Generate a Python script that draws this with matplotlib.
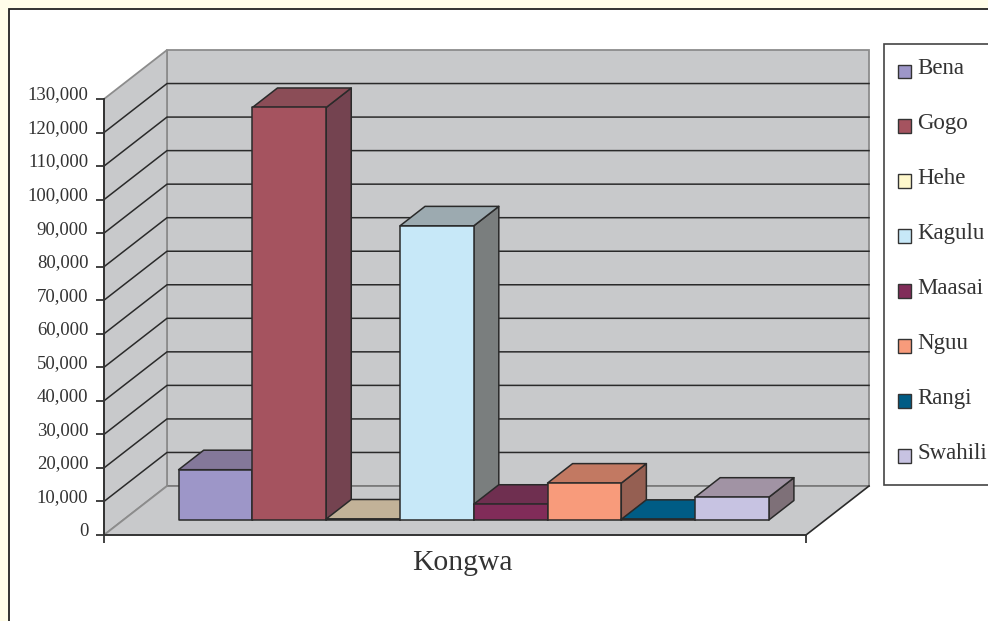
#!/usr/bin/env python3
import matplotlib
matplotlib.use('Agg')
import matplotlib.pyplot as plt
from matplotlib.legend_handler import HandlerPatch
from matplotlib.patches import Polygon, Patch, Rectangle
from matplotlib.ticker import FuncFormatter
from matplotlib.transforms import ScaledTranslation

plt.rcParams['font.family'] = ['Liberation Serif', 'DejaVu Serif']

names = ['Bena', 'Gogo', 'Hehe', 'Kagulu', 'Maasai', 'Nguu', 'Rangi', 'Swahili']
values = [15000, 123000, 300, 87700, 4700, 11000, 200, 6800]
front_colors = ['#9D96C8', '#A5535F', '#FFF8CC', '#C7E8F8', '#812C59', '#F89B7B', '#005C85', '#C7C3E2']
top_colors = ['#84789A', '#8B4D57', '#C2B298', '#9CAAB0', '#6F2F50', '#C27962', '#005C85', '#A193A4']
side_colors = ['#6B5F80', '#744350', '#8F836F', '#7A7E7E', '#5A2440', '#955F52', '#00435F', '#7E7078']
yticks = list(range(0, 130001, 10000))
category = 'Kongwa'

WALL = '#C8C9CB'
EDGE = '#2A2A2A'
GREY = '#8C8C8C'
# depth of the 3d box, in category units and value units
DX = 0.854
DY = 14610
BAR_FRONT = 0.306
BAR_BACK = 0.704
XMIN, XMAX = -0.75, 8.765
YMAX = 130000


def proj(x, v, d):
    return (x + d * DX, v + d * DY)


def legend_square(legend, orig_handle, xdescent, ydescent, width, height, fontsize):
    # square sits a little below the text baseline
    return Rectangle((0, -0.175 * fontsize), width, 0.59 * fontsize)


fig = plt.figure(figsize=(9.88, 6.21), dpi=100, facecolor='#FFFDE9')
fig.add_artist(Rectangle((9 / 988, -0.05), 1.1, 1.05 - 9 / 621, transform=fig.transFigure,
                         facecolor='white', edgecolor='#222222', linewidth=1.3, zorder=-1))
# legend box runs off the right edge
fig.add_artist(Rectangle((884 / 988, 1 - 485 / 621), 0.2, 441 / 621, transform=fig.transFigure,
                         facecolor='white', edgecolor='#444444', linewidth=1.2, zorder=-0.5))

ax = fig.add_axes([104 / 988, (621 - 535) / 621, 702 / 988, 436 / 621])
ax.set_facecolor('none')
ax.set_xlim(XMIN, XMAX)
ax.set_ylim(0, YMAX)
for s in ['top', 'right']:
    ax.spines[s].set_visible(False)
for s in ['left', 'bottom']:
    ax.spines[s].set_color('#333333')
    ax.spines[s].set_linewidth(1.4)
    ax.spines[s].set_zorder(6)

# walls and floor
ax.add_patch(Polygon([proj(XMIN, 0, 1), proj(XMAX, 0, 1), proj(XMAX, YMAX, 1), proj(XMIN, YMAX, 1)],
                     facecolor=WALL, edgecolor=GREY, linewidth=1.3, clip_on=False, zorder=1))
ax.add_patch(Polygon([proj(XMIN, 0, 0), proj(XMIN, 0, 1), proj(XMIN, YMAX, 1), proj(XMIN, YMAX, 0)],
                     facecolor=WALL, edgecolor=GREY, linewidth=1.3, clip_on=False, zorder=1))
ax.add_patch(Polygon([proj(XMIN, 0, 0), proj(XMAX, 0, 0), proj(XMAX, 0, 1), proj(XMIN, 0, 1)],
                     facecolor=WALL, edgecolor='none', clip_on=False, zorder=1))
floor_back = [proj(XMIN, 0, 1), proj(XMAX, 0, 1)]
ax.plot(*zip(*floor_back), color='#777777', lw=1.2, clip_on=False, zorder=2)
ax.plot(*zip(proj(XMIN, 0, 0), proj(XMIN, 0, 1)), color=GREY, lw=1.3, clip_on=False, zorder=2)
ax.plot(*zip(proj(XMAX, 0, 0), proj(XMAX, 0, 1)), color=EDGE, lw=1.2, clip_on=False, zorder=2)

# gridlines on back wall and side wall
for v in yticks[1:-1]:
    ax.plot(*zip(proj(XMIN, v, 0), proj(XMIN, v, 1), proj(XMAX, v, 1)),
            color=EDGE, lw=1.1, clip_on=False, zorder=2)

# bars, left to right so the next one hides the top of the last
for i, val in enumerate(values):
    x0, x1 = i, i + 1
    front = [proj(x0, 0, BAR_FRONT), proj(x1, 0, BAR_FRONT), proj(x1, val, BAR_FRONT), proj(x0, val, BAR_FRONT)]
    top = [proj(x0, val, BAR_FRONT), proj(x1, val, BAR_FRONT), proj(x1, val, BAR_BACK), proj(x0, val, BAR_BACK)]
    side = [proj(x1, 0, BAR_FRONT), proj(x1, 0, BAR_BACK), proj(x1, val, BAR_BACK), proj(x1, val, BAR_FRONT)]
    z = 3 + i * 0.1
    for pts, col in [(side, side_colors[i]), (top, top_colors[i]), (front, front_colors[i])]:
        ax.add_patch(Polygon(pts, facecolor=col, edgecolor=EDGE, linewidth=1.1,
                             joinstyle='round', clip_on=False, zorder=z))

ax.set_yticks(yticks)
ax.yaxis.set_major_formatter(FuncFormatter(lambda v, p: f'{int(v):,}'))
ax.tick_params(axis='y', length=5.8, width=1.3, color='#333333', pad=5.5,
               labelsize=13.5, labelcolor='#333333')
for lab in ax.get_yticklabels():
    lab.set_transform(lab.get_transform() + ScaledTranslation(0, 6 / 72 * 0.72, fig.dpi_scale_trans))
ax.set_xticks([XMIN, XMAX])
ax.set_xticklabels(['', ''])
ax.tick_params(axis='x', length=5.8, width=1.3, color='#333333')
ax.text((XMIN + XMAX) / 2 + 0.1, -0.065, category, transform=ax.get_xaxis_transform(),
        ha='center', va='center', fontsize=21.3, color='#333333')

handles = [Patch(facecolor=c, edgecolor='#333333', linewidth=1.0) for c in front_colors]
leg = fig.legend(handles, names, loc='upper left', bbox_to_anchor=(884 / 988, 1 - 44 / 621),
                 borderaxespad=0, fontsize=16.5, frameon=False, handlelength=0.57,
                 handletextpad=0.27, labelspacing=1.48, borderpad=0.61, labelcolor='#333333',
                 handler_map={Patch: HandlerPatch(patch_func=legend_square)})

plt.savefig('out.png', dpi=100)
